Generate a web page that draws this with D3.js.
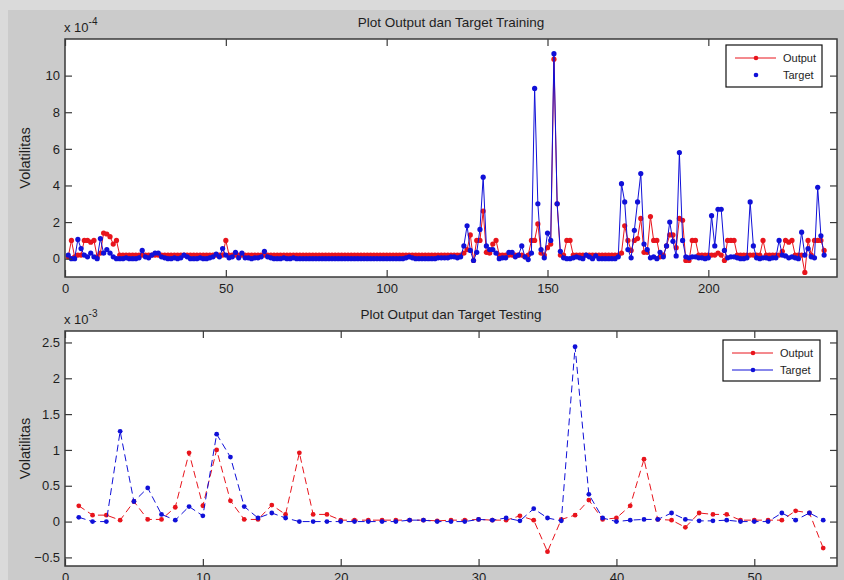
<!DOCTYPE html>
<html>
<head>
<meta charset="utf-8">
<script src="https://cdn.jsdelivr.net/npm/d3@7"></script>
<style>
  body { margin: 0; background: #dadada; }
  svg { display: block; font-family: "Liberation Sans", Arial, sans-serif; }
</style>
</head>
<body>
<svg id="chart" width="844" height="580"></svg>
<script>
// ---- training data (x 1e-4), index 1..236 ----
var TRAIN_OUTPUT = [
  0.1, 1.0, 0.1, 0.2, 0.2, 1.0, 1.0, 0.9, 1.0, 0.1,
  0.3, 1.4, 1.35, 1.2, 0.8, 1.0, 0.2, 0.2, 0.2, 0.2,
  0.2, 0.2, 0.2, 0.2, 0.2, 0.2, 0.2, 0.2, 0.2, 0.2,
  0.2, 0.2, 0.2, 0.2, 0.2, 0.2, 0.2, 0.2, 0.2, 0.2,
  0.2, 0.2, 0.2, 0.2, 0.2, 0.2, 0.2, 0.2, 0.2, 1.0,
  0.2, 0.2, 0.2, 0.2, 0.2, 0.2, 0.2, 0.2, 0.2, 0.2,
  0.2, 0.2, 0.2, 0.2, 0.2, 0.2, 0.2, 0.2, 0.2, 0.2,
  0.2, 0.2, 0.2, 0.2, 0.2, 0.2, 0.2, 0.2, 0.2, 0.2,
  0.2, 0.2, 0.2, 0.2, 0.2, 0.2, 0.2, 0.2, 0.2, 0.2,
  0.2, 0.2, 0.2, 0.2, 0.2, 0.2, 0.2, 0.2, 0.2, 0.2,
  0.2, 0.2, 0.2, 0.2, 0.2, 0.2, 0.2, 0.2, 0.2, 0.2,
  0.2, 0.2, 0.2, 0.2, 0.2, 0.2, 0.2, 0.2, 0.2, 0.2,
  0.2, 0.2, 0.2, 0.3, 0.5, 1.3, -0.1, 1.0, 1.0, 2.6,
  0.35, 0.3, 0.8, 1.0, 0.2, 0.2, 0.2, 0.2, 0.2, 0.2,
  0.2, 0.2, 0.1, 0.2, 1.0, 1.0, 1.9, 0.3, 0.2, 0.6,
  0.8, 10.9, 3.0, 0.2, 0.2, 1.0, 1.0, 0.2, 0.2, 0.2,
  0.2, 0.2, 0.2, 0.2, 0.2, 0.2, 0.2, 0.2, 0.2, 0.2,
  0.2, 0.2, 0.3, 1.8, 1.0, 0.45, 1.0, 1.1, 2.2, 0.35,
  0.35, 2.3, 1.0, 1.0, 0.1, 0.2, 0.7, 1.3, 1.3, 0.6,
  2.2, 2.1, -0.1, -0.1, 1.0, 1.0, 0.2, 0.2, 0.2, 0.2,
  0.2, 0.2, 0.3, 0.2, -0.1, 1.0, 1.0, 1.0, 0.2, 0.2,
  0.2, 0.2, 0.2, 0.2, 0.2, 0.2, 1.0, 0.2, 0.2, 0.2,
  0.2, 0.2, 0.4, 1.0, 0.9, 1.0, 0.2, 0.2, 0.2, -0.75,
  1.0, 0.2, 1.0, 1.0, 1.0, 0.45
];
var TRAIN_TARGET = [
  0.2, 0.0, 0.0, 1.05, 0.55, 0.2, 0.1, 0.3, 0.1, 0.0,
  1.1, 0.3, 0.5, 0.3, 0.1, 0.0, 0.0, 0.0, 0.05, 0.0,
  0.0, 0.0, 0.05, 0.45, 0.1, 0.05, 0.2, 0.3, 0.3, 0.1,
  0.05, 0.0, 0.0, 0.05, 0.0, 0.05, 0.2, 0.1, 0.0, 0.0,
  0.0, 0.05, 0.0, 0.0, 0.05, 0.1, 0.25, 0.1, 0.55, 0.2,
  0.05, 0.1, 0.35, 0.05, 0.3, 0.05, 0.05, 0.0, 0.05, 0.05,
  0.1, 0.4, 0.1, 0.05, 0.0, 0.0, 0.0, 0.05, 0.0, 0.0,
  0.05, 0.0, 0.0, 0.0, 0.0, 0.0, 0.0, 0.0, 0.0, 0.0,
  0.0, 0.0, 0.0, 0.0, 0.0, 0.0, 0.0, 0.0, 0.0, 0.0,
  0.0, 0.0, 0.0, 0.0, 0.0, 0.0, 0.0, 0.0, 0.0, 0.0,
  0.0, 0.0, 0.0, 0.0, 0.0, 0.05, 0.1, 0.05, 0.0, 0.0,
  0.0, 0.0, 0.0, 0.0, 0.0, 0.05, 0.05, 0.05, 0.05, 0.1,
  0.1, 0.05, 0.1, 0.7, 1.8, 0.45, -0.1, 0.35, 1.6, 4.45,
  0.7, 0.5, 0.5, 0.3, 0.0, 0.05, 0.05, 0.35, 0.35, 0.1,
  0.2, 0.7, 0.1, -0.05, 0.3, 9.3, 3.0, 0.5, 0.05, 1.4,
  1.0, 11.2, 3.0, 0.4, 0.05, 0.0, 0.0, 0.05, 0.1, 0.05,
  0.0, 0.2, 0.1, 0.0, 0.15, 0.0, 0.0, 0.0, 0.0, 0.0,
  0.0, 0.1, 4.1, 3.1, 0.5, 0.05, 1.55, 3.1, 4.65, 0.8,
  0.5, 0.05, 0.1, 0.0, 0.35, 0.1, 0.7, 2.0, 0.95, 0.15,
  5.8, 1.0, 0.1, 0.05, 0.1, 0.1, 0.05, 0.05, 0.0, 0.05,
  2.35, 0.7, 2.7, 2.7, 0.45, 0.05, 0.1, 0.1, 0.05, 0.0,
  0.0, 0.05, 3.1, 0.7, 0.05, 0.0, 0.05, 0.05, 0.0, 0.05,
  0.05, 1.0, 0.2, 0.15, 0.05, 0.1, 0.05, 0.0, 1.45, 0.2,
  0.55, 0.1, 0.05, 3.9, 1.25, 0.2
];

// ---- testing data (x 1e-3), index 1..55 ----
var TEST_OUTPUT = [
  0.22, 0.09, 0.09, 0.02, 0.28, 0.03, 0.03, 0.2, 0.96, 0.22,
  1.0, 0.29, 0.03, 0.03, 0.23, 0.1, 0.96, 0.1, 0.1, 0.02,
  0.02, 0.02, 0.02, 0.02, 0.02, 0.02, 0.01, 0.02, 0.02, 0.03,
  0.02, 0.02, 0.08, 0.02, -0.42, 0.03, 0.09, 0.3, 0.03, 0.05,
  0.22, 0.87, 0.03, 0.02, -0.08, 0.12, 0.1, 0.1, 0.02, 0.02,
  0.02, 0.02, 0.15, 0.12, -0.37
];
var TEST_TARGET = [
  0.06, 0.0, 0.0, 1.26, 0.28, 0.47, 0.1, 0.02, 0.21, 0.08,
  1.22, 0.9, 0.21, 0.05, 0.12, 0.05, 0.0, 0.0, 0.0, 0.0,
  0.0, 0.0, 0.0, 0.0, 0.02, 0.02, 0.0, 0.0, 0.0, 0.03,
  0.02, 0.05, 0.01, 0.18, 0.05, 0.01, 2.44, 0.38, 0.05, 0.0,
  0.02, 0.03, 0.03, 0.12, 0.03, 0.01, 0.01, 0.02, 0.0, 0.0,
  0.0, 0.12, 0.02, 0.12, 0.02
];

var TRAIN_XTICKS = [0, 50, 100, 150, 200];
var TRAIN_YTICKS = [0, 2, 4, 6, 8, 10];
var TEST_XTICKS = [0, 10, 20, 30, 40, 50];
var TEST_YTICKS = [-0.5, 0, 0.5, 1, 1.5, 2, 2.5];

var RED = "#e8141c";
var BLUE = "#1010d8";
var FRAME = "#3a3a3a";
var TEXT = "#1e1e1e";

var svg = d3.select("#chart");

// figure background
svg.append("rect").attr("x", 0).attr("y", 0).attr("width", 844).attr("height", 580).attr("fill", "#dadada");
svg.append("rect").attr("x", 8).attr("y", 10).attr("width", 836).attr("height", 570).attr("fill", "#cbcbcb");


function drawPanel(cfg)
{
  var x = d3.scaleLinear().domain(cfg.xDomain).range([cfg.left, cfg.right]);
  var y = d3.scaleLinear().domain(cfg.yDomain).range([cfg.bottom, cfg.top]);
  var g = svg.append("g");

  g.append("rect")
    .attr("x", cfg.left).attr("y", cfg.top)
    .attr("width", cfg.right - cfg.left).attr("height", cfg.bottom - cfg.top)
    .attr("fill", "white");

  var clipId = "clip" + cfg.id;
  svg.append("clipPath").attr("id", clipId)
    .append("rect")
    .attr("x", cfg.left).attr("y", cfg.top)
    .attr("width", cfg.right - cfg.left).attr("height", cfg.bottom - cfg.top);

  var plot = g.append("g").attr("clip-path", "url(#" + clipId + ")");

  cfg.series.forEach(function(s) {
    var pts = s.values.map(function(v, i) { return [i + 1, v]; });
    var line = d3.line()
                 .x(function(d) { return x(d[0]); })
                 .y(function(d) { return y(d[1]); });
    plot.append("path")
        .datum(pts)
        .attr("d", line)
        .attr("fill", "none")
        .attr("stroke", s.color)
        .attr("stroke-width", s.width)
        .attr("stroke-dasharray", s.dash);
    plot.selectAll(null)
        .data(pts)
        .enter()
        .append("circle")
        .attr("cx", function(d) { return x(d[0]); })
        .attr("cy", function(d) { return y(d[1]); })
        .attr("r", s.r)
        .attr("fill", s.color);
  });

  // axes (ticks inside, on all four sides)
  var tl = 7;
  g.append("g").attr("transform", "translate(0," + cfg.bottom + ")")
    .call(d3.axisBottom(x).tickValues(cfg.xTicks).tickSize(-tl).tickPadding(7).tickFormat(d3.format("")))
    .call(styleAxis);
  g.append("g").attr("transform", "translate(0," + cfg.top + ")")
    .call(d3.axisTop(x).tickValues(cfg.xTicks).tickSize(-tl).tickFormat(""))
    .call(styleAxis);
  g.append("g").attr("transform", "translate(" + cfg.left + ",0)")
    .call(d3.axisLeft(y).tickValues(cfg.yTicks).tickSize(-tl).tickPadding(5).tickFormat(d3.format("")))
    .call(styleAxis);
  g.append("g").attr("transform", "translate(" + cfg.right + ",0)")
    .call(d3.axisRight(y).tickValues(cfg.yTicks).tickSize(-tl).tickFormat(""))
    .call(styleAxis);

  g.append("rect")
    .attr("x", cfg.left).attr("y", cfg.top)
    .attr("width", cfg.right - cfg.left).attr("height", cfg.bottom - cfg.top)
    .attr("fill", "none").attr("stroke", FRAME).attr("stroke-width", 1.5);

  // title
  g.append("text")
    .text(cfg.title)
    .attr("x", (cfg.left + cfg.right) / 2)
    .attr("y", cfg.top - 12)
    .attr("text-anchor", "middle")
    .attr("font-size", "13.5px")
    .attr("fill", TEXT);

  // exponent
  var ex = g.append("text")
    .attr("x", cfg.left - 1)
    .attr("y", cfg.top - 7)
    .attr("font-size", "13px")
    .attr("fill", TEXT);
  ex.append("tspan").text("x 10");
  ex.append("tspan").text(cfg.exponent).attr("dy", -7).attr("font-size", "10px");

  // y label
  g.append("text")
    .text("Volatilitas")
    .attr("transform", "translate(30," + ((cfg.top + cfg.bottom) / 2) + ") rotate(-90)")
    .attr("text-anchor", "middle")
    .attr("font-size", "14.5px")
    .attr("fill", TEXT);

  // legend
  var L = cfg.legend;
  var lg = g.append("g");
  lg.append("rect")
    .attr("x", L.x).attr("y", L.y).attr("width", L.w).attr("height", L.h)
    .attr("fill", "white").attr("stroke", "#111").attr("stroke-width", 1.2);
  L.items.forEach(function(it, k) {
    var yy = L.y + 13 + k * 17;
    if (it.line)
    {
      lg.append("line")
        .attr("x1", L.x + 9).attr("x2", L.x + 50)
        .attr("y1", yy).attr("y2", yy)
        .attr("stroke", it.color).attr("stroke-width", 1);
    }
    lg.append("circle").attr("cx", L.x + 30).attr("cy", yy).attr("r", 2.3).attr("fill", it.color);
    lg.append("text")
      .text(it.label)
      .attr("x", L.x + 57).attr("y", yy + 4)
      .attr("font-size", "11px")
      .attr("fill", TEXT);
  });
}


function styleAxis(sel)
{
  sel.select(".domain").remove();
  sel.selectAll(".tick line").attr("stroke", FRAME).attr("stroke-width", 1.2);
  sel.selectAll(".tick text")
     .attr("font-size", "13px")
     .attr("font-family", "Liberation Sans, Arial, sans-serif")
     .attr("fill", TEXT);
}


drawPanel({
  id: "train",
  left: 65, right: 837, top: 39, bottom: 277,
  xDomain: [0, 240], yDomain: [-1, 12],
  xTicks: TRAIN_XTICKS, yTicks: TRAIN_YTICKS,
  title: "Plot Output dan Target Training",
  exponent: "-4",
  series: [
    { values: TRAIN_OUTPUT, color: RED, width: 1, dash: null, r: 2.6 },
    { values: TRAIN_TARGET, color: BLUE, width: 1, dash: null, r: 2.6 }
  ],
  legend: { x: 726, y: 45, w: 96, h: 42,
            items: [ { label: "Output", color: RED, line: true },
                     { label: "Target", color: BLUE, line: false } ] }
});

drawPanel({
  id: "test",
  left: 65, right: 837, top: 331, bottom: 566,
  xDomain: [0, 56], yDomain: [-0.62, 2.66],
  xTicks: TEST_XTICKS, yTicks: TEST_YTICKS,
  title: "Plot Output dan Target Testing",
  exponent: "-3",
  series: [
    { values: TEST_OUTPUT, color: RED, width: 1, dash: "7,4", r: 2.4 },
    { values: TEST_TARGET, color: BLUE, width: 1, dash: "7,4", r: 2.4 }
  ],
  legend: { x: 723, y: 340, w: 97, h: 41,
            items: [ { label: "Output", color: RED, line: true },
                     { label: "Target", color: BLUE, line: true } ] }
});
</script>
</body>
</html>
